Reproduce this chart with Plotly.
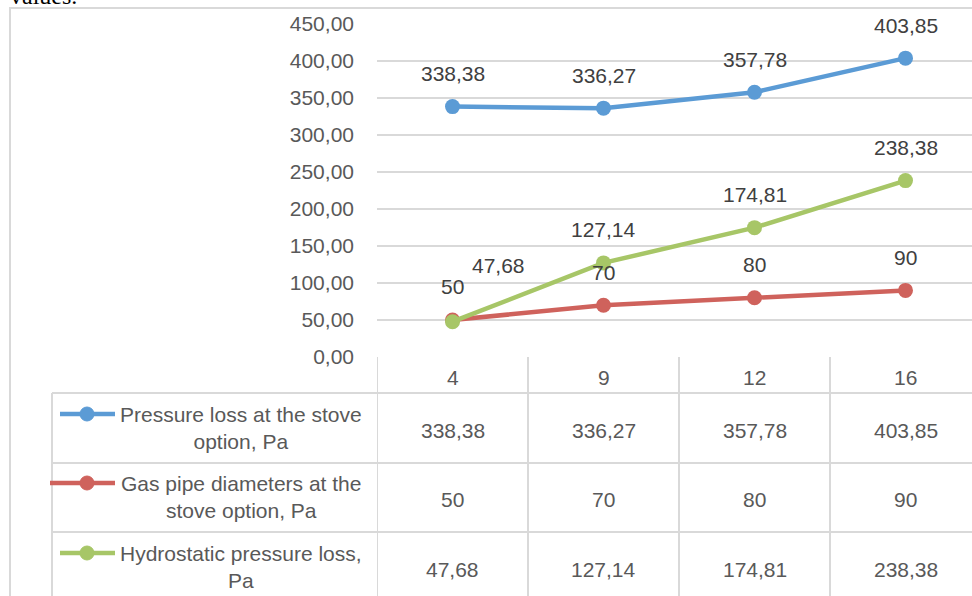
import plotly.graph_objects as go

# ---------------- data ----------------
categories = ["4", "9", "12", "16"]
series_names = [
    "Pressure loss at the stove<br>option, Pa",
    "Gas pipe diameters at the<br>stove option, Pa",
    "Hydrostatic pressure loss,<br>Pa",
]
pressure_loss = [338.38, 336.27, 357.78, 403.85]
pipe_diameters = [50, 70, 80, 90]
hydrostatic_loss = [47.68, 127.14, 174.81, 238.38]
y_ticks = [0, 50, 100, 150, 200, 250, 300, 350, 400, 450]

series_values = [pressure_loss, pipe_diameters, hydrostatic_loss]
series_decimals = [2, 0, 2]
colors = ["#5B9BD5", "#CF625C", "#A7C667"]

# ---------------- geometry helpers ----------------
W, H = 972, 596
def px(x):  # pixel x -> paper
    return x / W
def py(y):  # pixel y (from top) -> paper
    return 1 - y / H

PLOT_L = 377
COL_W = 151
FONT = "Liberation Sans"
FS = 21
TXT = "#595959"
LBL = "#404040"
GRID = "#D9D9D9"

def fmt(v, d):
    return f"{v:.{d}f}".replace(".", ",")

xs = list(range(len(categories)))

fig = go.Figure()
for name, vals, col in zip(series_names, series_values, colors):
    fig.add_trace(go.Scatter(
        x=xs, y=vals, mode="lines+markers", name=name.replace("<br>", " "),
        line=dict(color=col, width=4.5),
        marker=dict(color=col, size=15),
        cliponaxis=False, showlegend=False, hoverinfo="skip",
    ))

annotations = []
shapes = []

def ann(**kw):
    base = dict(showarrow=False, xanchor="center", yanchor="middle",
                font=dict(family=FONT, size=FS, color=TXT))
    base.update(kw)
    annotations.append(base)

# data labels
label_shift = {(2, 0): (46, 56)}
for si, (vals, d) in enumerate(zip(series_values, series_decimals)):
    for i, v in enumerate(vals):
        xsft, ysft = label_shift.get((si, i), (0, 33))
        ann(x=i, y=v, xref="x", yref="y", text=fmt(v, d),
            xshift=xsft, yshift=ysft, font=dict(family=FONT, size=FS, color=LBL))

# ---------- data table ----------
ROW_TOP = 357
ROW_LINES = [393, 463, 532]
HEADER_Y = 377
ROW_Y = [430, 499, 569]
LEG_L = 52

for i, c in enumerate(categories):
    ann(x=i, y=py(HEADER_Y), xref="x", yref="paper", text=c)
for si, (vals, d) in enumerate(zip(series_values, series_decimals)):
    for i, v in enumerate(vals):
        ann(x=i, y=py(ROW_Y[si]), xref="x", yref="paper", text=fmt(v, d))

for ly in ROW_LINES:
    shapes.append(dict(type="line", xref="paper", yref="paper",
                       x0=px(LEG_L), x1=1.02, y0=py(ly), y1=py(ly),
                       line=dict(color=GRID, width=2)))
for b in [i - 0.5 for i in range(len(categories) + 1)]:
    shapes.append(dict(type="line", xref="x", yref="paper",
                       x0=b, x1=b, y0=py(ROW_TOP), y1=-0.05,
                       line=dict(color=GRID, width=2)))
shapes.append(dict(type="line", xref="paper", yref="paper",
                   x0=px(LEG_L), x1=px(LEG_L), y0=py(ROW_LINES[0]), y1=-0.05,
                   line=dict(color=GRID, width=2)))

# legend keys and names
key_x0 = [60, 50, 60]
for si, (name, col) in enumerate(zip(series_names, colors)):
    yk = ROW_Y[si] - 16
    shapes.append(dict(type="line", xref="paper", yref="paper",
                       x0=px(key_x0[si]), x1=px(115), y0=py(yk), y1=py(yk),
                       line=dict(color=col, width=4.5)))
    shapes.append(dict(type="circle", xref="paper", yref="paper",
                       x0=px(87 - 7), x1=px(87 + 7), y0=py(yk - 7), y1=py(yk + 7),
                       fillcolor=col, line=dict(color=col, width=1)))
    ann(x=px(241), y=py(ROW_Y[si] - 2), xref="paper", yref="paper", text=name,
        align="center")

# outer chart border
shapes.append(dict(type="rect", xref="paper", yref="paper",
                   x0=px(10), x1=1.05, y0=py(8), y1=-0.05,
                   line=dict(color=GRID, width=2), layer="below"))

# clipped document text above chart
ann(x=px(8), y=py(11), xref="paper", yref="paper", xanchor="left", yanchor="bottom",
    text="values.", font=dict(family="Liberation Serif", size=24, color="#000000"))

fig.update_layout(
    width=W, height=H,
    margin=dict(l=0, r=0, t=0, b=0, pad=0, autoexpand=False),
    paper_bgcolor="white", plot_bgcolor="white",
    separators=",.",
    shapes=shapes, annotations=annotations,
    xaxis=dict(domain=[px(PLOT_L), 1], range=[-0.5, -0.5 + (W - PLOT_L) / COL_W],
               showgrid=False, showticklabels=False, zeroline=False,
               showline=False, fixedrange=True, automargin=False),
    yaxis=dict(domain=[py(357), py(24)], range=[0, 450], tickvals=y_ticks,
               tickformat=".2f", showgrid=True, gridcolor=GRID, gridwidth=1.5,
               zeroline=False, showline=False, ticks="", automargin=False,
               ticklabelstandoff=22, fixedrange=True,
               tickfont=dict(family=FONT, size=FS, color=TXT)),
)

fig.write_html("out.html", config={"displayModeBar": False},
               post_script="document.body.style.margin='0';")
